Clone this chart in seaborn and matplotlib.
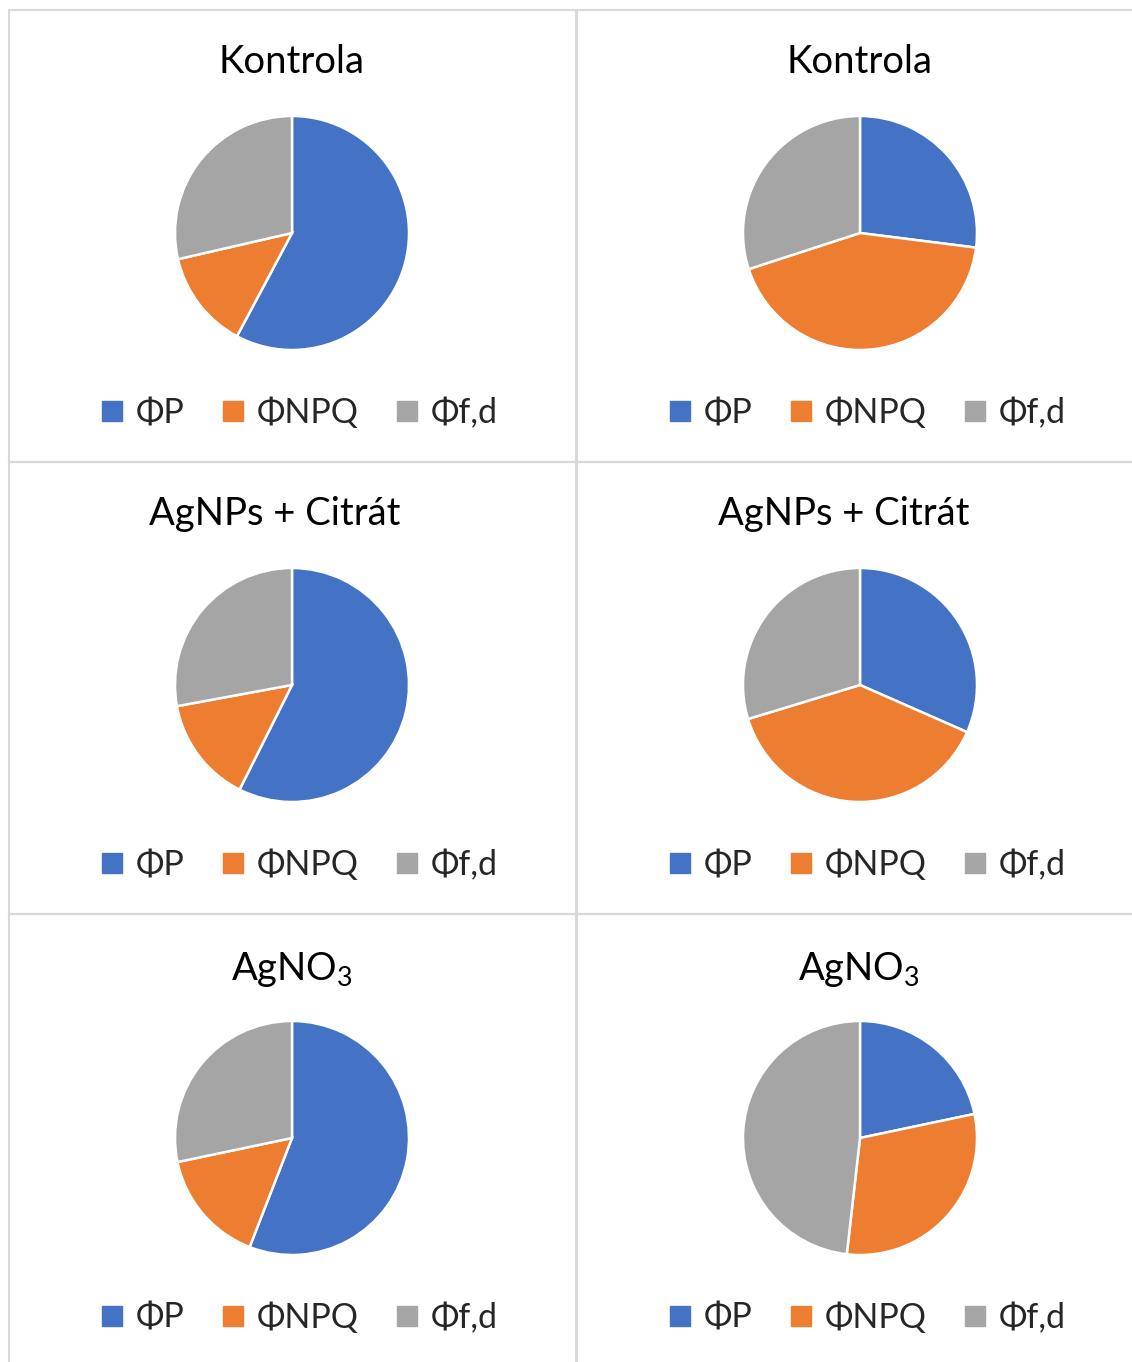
import matplotlib
matplotlib.use("Agg")
import matplotlib.pyplot as plt
from matplotlib.lines import Line2D
from matplotlib.patches import Rectangle
import seaborn as sns

# data (fractions of each pie)
labels = ["ΦP", "ΦNPQ", "Φf,d"]
titles = ["Kontrola", "Kontrola",
          "AgNPs + Citrát", "AgNPs + Citrát",
          r"AgNO$_\mathrm{3}$", r"AgNO$_\mathrm{3}$"]
phi_p = [0.578, 0.270, 0.574, 0.316, 0.559, 0.217]
phi_npq = [0.136, 0.430, 0.147, 0.387, 0.158, 0.301]
phi_fd = [0.286, 0.300, 0.279, 0.297, 0.283, 0.482]

colors = ["#4472C4", "#ED7D31", "#A5A5A5"]

sns.set_theme(style="white")
plt.rcParams['font.family'] = ['Lato', 'DejaVu Sans']
plt.rcParams['mathtext.fontset'] = 'custom'
plt.rcParams['mathtext.rm'] = 'Lato'

W, H = 1132, 1362
fig = plt.figure(figsize=(W / 100, H / 100), dpi=100)
fig.patch.set_facecolor("white")

# panel layout in pixels
col_x = [9, 577]
col_w = [567, 560]
row_y = [10, 462, 914]
row_h = 452
pie_cx = [292, 860]
pie_cy = [233, 685, 1138]
title_cx = [[292, 860], [275, 844], [292, 859]]
title_base = [73, 525, 980]
leg_cx = [300, 868]
leg_cy = [413, 865, 1318]
R = 117


def fx(x):
    return x / W


def fy(y):
    return 1 - y / H


for r in range(3):
    for c in range(2):
        i = r * 2 + c
        # panel border
        fig.add_artist(Rectangle((fx(col_x[c]), fy(row_y[r] + row_h)),
                                 col_w[c] / W, row_h / H,
                                 transform=fig.transFigure, fill=False,
                                 edgecolor="#d9d9d9", linewidth=1.5))

        ax = fig.add_axes([fx(pie_cx[c] - R), fy(pie_cy[r] + R), 2 * R / W, 2 * R / H])
        vals = [phi_p[i], phi_npq[i], phi_fd[i]]
        ax.pie(vals, colors=colors, startangle=90, counterclock=False,
               wedgeprops=dict(edgecolor="white", linewidth=1.8))
        ax.set_xlim(-1.0, 1.0)
        ax.set_ylim(-1.0, 1.0)
        ax.axis("off")

        fig.text(fx(title_cx[r][c]), fy(title_base[r]), titles[i],
                 ha="center", va="baseline", fontsize=27.5, color="#000000")

        handles = [Line2D([0], [0], marker="s", linestyle="", markersize=14,
                          markerfacecolor=col, markeredgecolor=col)
                   for col in colors]
        fig.legend(handles, labels, loc="center",
                   bbox_to_anchor=(fx(leg_cx[c]), fy(leg_cy[r])),
                   ncol=3, frameon=False, fontsize=24.5, handlelength=0.6,
                   handletextpad=0.4, columnspacing=1.12, borderpad=0)

fig.savefig("out.png", dpi=100)
